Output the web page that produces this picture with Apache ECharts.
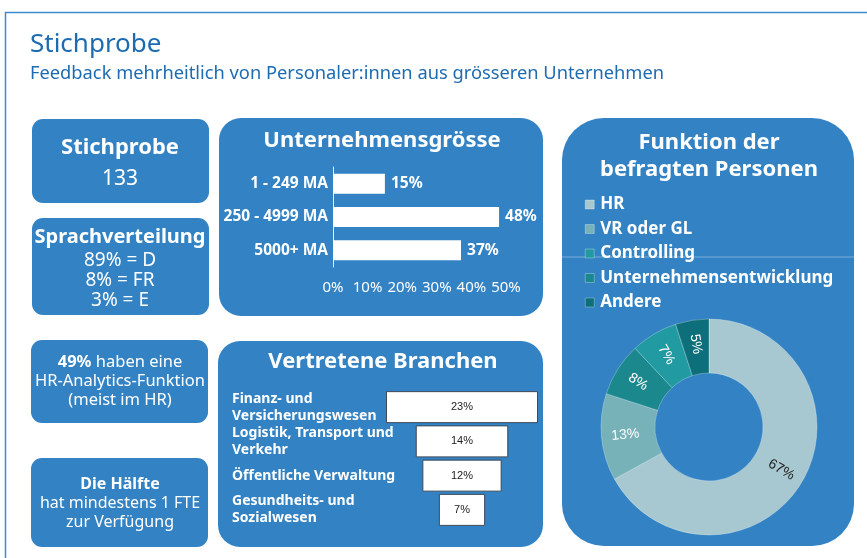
<!DOCTYPE html>
<html>
<head>
<meta charset="utf-8">
<script src="https://cdn.jsdelivr.net/npm/echarts@6/dist/echarts.min.js"></script>
<style>
  html, body { margin: 0; padding: 0; background: #fff; }
  #main { width: 867px; height: 558px; }
</style>
</head>
<body>
<div id="main"></div>
<script>
// Unternehmensgrösse
var sizeCats = ['1 - 249 MA', '250 - 4999 MA', '5000+ MA']
var sizeVals = [15, 48, 37]
// Vertretene Branchen
var branchCats = ['Finanz- und\nVersicherungswesen', 'Logistik, Transport und\nVerkehr', 'Öffentliche Verwaltung', 'Gesundheits- und\nSozialwesen']
var branchVals = [23, 14, 12, 7]
// Funktion der befragten Personen (Reihenfolge im Ring, im Uhrzeigersinn)
var funcNames = ['HR', 'VR oder GL', 'Unternehmensentwicklung', 'Controlling', 'Andere']
var funcVals = [67, 13, 8, 7, 5]
var funcColors = ['#a7c8d0', '#77b2b9', '#1a888c', '#219aa1', '#0d6f79']
var legendOrder = ['HR', 'VR oder GL', 'Controlling', 'Unternehmensentwicklung', 'Andere']

var BLUE = '#3282c4'
var FONT = '"Noto Sans", "Open Sans", sans-serif'
var branchMax = Math.max.apply(null, branchVals)

var chart = echarts.init(document.getElementById('main'))

function box(x, y, w, h, r) {
    return { type: 'rect', shape: { x: x, y: y, width: w, height: h, r: r }, style: { fill: BLUE }, z: 0 }
}
function txt(x, y, text, font) {
    return { type: 'text', z: 5, style: { text: text, x: x, y: y, fill: '#fff', font: font, align: 'center', verticalAlign: 'middle' } }
}

chart.setOption({
    backgroundColor: '#fff',
    animation: false,
    graphic: [
        // Rahmen
        { type: 'polyline', shape: { points: [[5.5, 558], [5.5, 12.5], [867, 12.5]] }, style: { stroke: '#3a8ccf', lineWidth: 1.5, fill: null } },
        { type: 'text', style: { text: 'Stichprobe', x: 30, y: 45, fill: '#1d6bb1', font: '26px ' + FONT, verticalAlign: 'middle' } },
        { type: 'text', style: { text: 'Feedback mehrheitlich von Personaler:innen aus grösseren Unternehmen', x: 30, y: 74, fill: '#1d6bb1', font: '18.3px ' + FONT, verticalAlign: 'middle' } },

        box(32, 119, 177, 84, 11),
        box(32, 218, 177, 97, 11),
        box(31, 340, 177, 83, 11),
        box(31, 458, 177, 89, 11),
        box(219, 118, 324, 198, 22),
        box(218, 341, 325, 206, 22),
        box(562, 118, 292, 428, 42),
        { type: 'line', shape: { x1: 562, y1: 257, x2: 854, y2: 257 }, style: { stroke: 'rgba(255,255,255,0.35)', lineWidth: 1 }, z: 1 },

        txt(120, 148, 'Stichprobe', 'bold 22px ' + FONT),
        txt(120, 179, '133', '21px ' + FONT),

        txt(120, 237, 'Sprachverteilung', 'bold 20px ' + FONT),
        txt(120, 261, '89% = D', '19px ' + FONT),
        txt(120, 281, '8% = FR', '19px ' + FONT),
        txt(120, 301, '3% = E', '19px ' + FONT),

        {
            type: 'text', z: 5,
            style: {
                text: '{b|49%} haben eine\nHR-Analytics-Funktion\n(meist im HR)',
                x: 120, y: 381, fill: '#fff', font: '16.5px ' + FONT, align: 'center', verticalAlign: 'middle', lineHeight: 19,
                rich: { b: { fontWeight: 'bold', fontSize: 16.5, fontFamily: FONT, fill: '#fff', lineHeight: 19 } }
            }
        },
        {
            type: 'text', z: 5,
            style: {
                text: '{b|Die Hälfte}\nhat mindestens 1 FTE\nzur Verfügung',
                x: 120, y: 503, fill: '#fff', font: '16px ' + FONT, align: 'center', verticalAlign: 'middle', lineHeight: 19,
                rich: { b: { fontWeight: 'bold', fontSize: 16, fontFamily: FONT, fill: '#fff', lineHeight: 19 } }
            }
        },

        txt(382, 141, 'Unternehmensgrösse', 'bold 22px ' + FONT),
        txt(383, 362, 'Vertretene Branchen', 'bold 22px ' + FONT),
        txt(709, 143, 'Funktion der', 'bold 22px ' + FONT),
        txt(709, 170, 'befragten Personen', 'bold 22px ' + FONT)
    ],
    legend: {
        orient: 'vertical',
        left: 580,
        top: 191,
        itemWidth: 9,
        itemHeight: 9,
        itemGap: 7.5,
        icon: 'rect',
        data: legendOrder,
        itemStyle: { borderWidth: 0.5, borderColor: 'rgba(255,255,255,0.6)' },
        textStyle: { color: '#fff', fontSize: 17, fontWeight: 'bold', fontFamily: FONT, lineHeight: 17, padding: [0, 0, 0, 1] }
    },
    grid: [
        { left: 333, top: 167, width: 173, height: 100 },
        { left: 386, top: 390, width: 152, height: 137 }
    ],
    xAxis: [
        {
            gridIndex: 0, type: 'value', min: 0, max: 50, interval: 10,
            axisLine: { show: false }, axisTick: { show: false }, splitLine: { show: false },
            axisLabel: { formatter: '{value}%', color: '#fff', fontSize: 15, fontFamily: FONT, margin: 13 }
        },
        {
            gridIndex: 1, type: 'value', min: 0, max: branchMax, show: false
        }
    ],
    yAxis: [
        {
            gridIndex: 0, type: 'category', data: sizeCats, inverse: true,
            axisLine: { show: true, lineStyle: { color: '#e8eef5', width: 1 } },
            axisTick: { show: false },
            axisLabel: { color: '#fff', fontSize: 15.5, fontWeight: 'bold', fontFamily: FONT, margin: 5 }
        },
        {
            gridIndex: 1, type: 'category', data: branchCats, inverse: true,
            axisLine: { show: false }, axisTick: { show: false },
            axisLabel: { color: '#fff', fontSize: 14, fontWeight: 'bold', fontFamily: FONT, align: 'left', margin: 154, lineHeight: 17 }
        }
    ],
    series: [
        {
            type: 'bar', xAxisIndex: 0, yAxisIndex: 0, data: sizeVals, barWidth: 20,
            itemStyle: { color: '#fff' },
            label: { show: true, position: 'right', distance: 6, formatter: '{c}%', color: '#fff', fontSize: 15.5, fontWeight: 'bold', fontFamily: FONT }
        },
        {
            type: 'bar', xAxisIndex: 1, yAxisIndex: 1, stack: 'b', barWidth: 32,
            data: branchVals.map(function (v) { return (branchMax - v) / 2 }),
            itemStyle: { color: 'transparent' }, silent: true
        },
        {
            type: 'bar', xAxisIndex: 1, yAxisIndex: 1, stack: 'b', barWidth: 32,
            data: branchVals,
            itemStyle: { color: '#fff', borderColor: '#3d4a57', borderWidth: 1 },
            label: { show: true, position: 'inside', formatter: '{c}%', color: '#222', fontSize: 11, fontFamily: '"Liberation Sans", Arial, sans-serif' }
        },
        {
            type: 'pie', center: [709, 427], radius: [54, 108], startAngle: 90, clockwise: true,
            avoidLabelOverlap: false,
            itemStyle: { borderColor: 'rgba(255,255,255,0.35)', borderWidth: 0.8 },
            label: {
                show: true, position: 'inside', rotate: 'radial', formatter: '{c}%',
                color: '#fff', fontSize: 14, fontFamily: '"Liberation Sans", Arial, sans-serif'
            },
            labelLine: { show: false },
            emphasis: { disabled: true },
            data: funcNames.map(function (n, i) {
                var d = { name: n, value: funcVals[i], itemStyle: { color: funcColors[i] } }
                if (i === 0) d.label = { color: '#222' }
                return d
            })
        }
    ]
})
</script>
</body>
</html>
